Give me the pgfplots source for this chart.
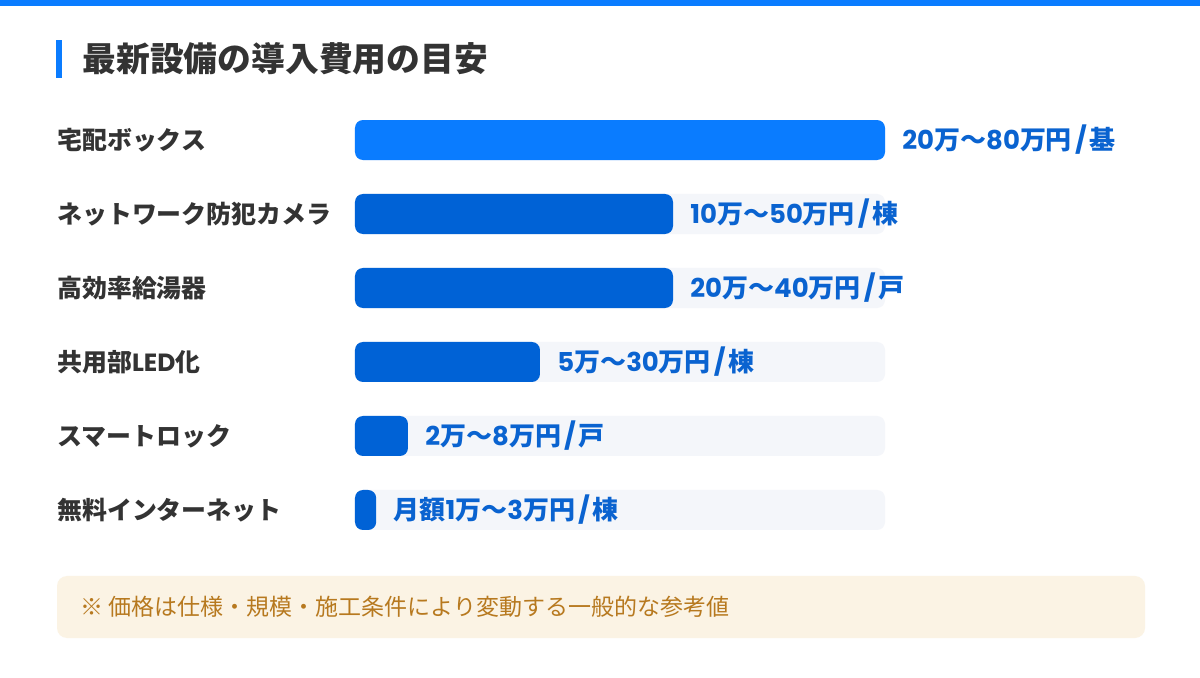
\documentclass[border=0pt]{standalone}
\usepackage{pgfplots}
\pgfplotsset{compat=1.18}
\usepackage{fontspec}
\setmainfont{Noto Sans CJK JP}
\newfontfamily\lat{Poppins}
\newcommand{\slsep}{\hspace{1.5pt}{\lat /}\hspace{1.5pt}}
\definecolor{topblue}{HTML}{0A7CFF}
\definecolor{barA}{HTML}{0A7CFF}
\definecolor{barB}{HTML}{0062D6}
\definecolor{track}{HTML}{F4F6FA}
\definecolor{valtxt}{HTML}{0A63D0}
\definecolor{lbl}{HTML}{333333}
\definecolor{notebg}{HTML}{FBF3E4}
\definecolor{notetxt}{HTML}{B7791F}
\begin{document}
\begin{tikzpicture}
\useasboundingbox[fill=white] (0,0) rectangle (600pt,-339pt);
\fill[topblue] (0,0) rectangle (600pt,-3pt);
\fill[topblue] (28pt,-20pt) rectangle (31pt,-39pt);
\node[anchor=west, inner sep=0, text=lbl, font=\fontsize{16.9pt}{18pt}\selectfont\bfseries] at (41pt,-29.5pt) {最新設備の導入費用の目安};
\fill[notebg, rounded corners=5pt] (28.5pt,-288pt) rectangle (572.5pt,-319pt);
\node[anchor=west, inner sep=0, text=notetxt, font=\fontsize{11.5pt}{13pt}\selectfont] at (40pt,-303.5pt) {※ 価格は仕様・規模・施工条件により変動する一般的な参考値};
\begin{axis}[at={(177.5pt,-51.5pt)}, anchor=north west, scale only axis,
  width=265pt, height=222pt, xmin=0, xmax=100, ymin=-0.5, ymax=5.5,
  y dir=reverse, hide axis, xbar, bar width=20pt, bar shift=0pt, clip=false]
\addplot[fill=track, draw=none, rounded corners=4pt] coordinates {(100,0) (100,1) (100,2) (100,3) (100,4) (100,5)};
\addplot[fill=barA, draw=none, rounded corners=4pt] coordinates {(100,0)};
\addplot[fill=barB, draw=none, rounded corners=4pt] coordinates {(60,1) (60,2) (34.9,3) (10,4) (4,5)};
\node[anchor=west, inner sep=0, xshift=-149pt, text=lbl, font=\fontsize{12.45pt}{14pt}\selectfont\bfseries] at (axis cs:0,0) {宅配ボックス};
\node[anchor=west, inner sep=0, xshift=-149pt, text=lbl, font=\fontsize{12.45pt}{14pt}\selectfont\bfseries] at (axis cs:0,1) {ネットワーク防犯カメラ};
\node[anchor=west, inner sep=0, xshift=-149pt, text=lbl, font=\fontsize{12.45pt}{14pt}\selectfont\bfseries] at (axis cs:0,2) {高効率給湯器};
\node[anchor=west, inner sep=0, xshift=-149pt, text=lbl, font=\fontsize{12.45pt}{14pt}\selectfont\bfseries] at (axis cs:0,3) {共用部{\lat LED}化};
\node[anchor=west, inner sep=0, xshift=-149pt, text=lbl, font=\fontsize{12.45pt}{14pt}\selectfont\bfseries] at (axis cs:0,4) {スマートロック};
\node[anchor=west, inner sep=0, xshift=-149pt, text=lbl, font=\fontsize{12.45pt}{14pt}\selectfont\bfseries] at (axis cs:0,5) {無料インターネット};
\node[anchor=west, inner sep=0, xshift=8.5pt, text=valtxt, font=\fontsize{13pt}{15pt}\selectfont\bfseries] at (axis cs:100,0) {{\lat 20}万〜{\lat 80}万円\slsep 基};
\node[anchor=west, inner sep=0, xshift=8.5pt, text=valtxt, font=\fontsize{13pt}{15pt}\selectfont\bfseries] at (axis cs:60,1) {{\lat 10}万〜{\lat 50}万円\slsep 棟};
\node[anchor=west, inner sep=0, xshift=8.5pt, text=valtxt, font=\fontsize{13pt}{15pt}\selectfont\bfseries] at (axis cs:60,2) {{\lat 20}万〜{\lat 40}万円\slsep 戸};
\node[anchor=west, inner sep=0, xshift=8.5pt, text=valtxt, font=\fontsize{13pt}{15pt}\selectfont\bfseries] at (axis cs:34.9,3) {{\lat 5}万〜{\lat 30}万円\slsep 棟};
\node[anchor=west, inner sep=0, xshift=8.5pt, text=valtxt, font=\fontsize{13pt}{15pt}\selectfont\bfseries] at (axis cs:10,4) {{\lat 2}万〜{\lat 8}万円\slsep 戸};
\node[anchor=west, inner sep=0, xshift=8.5pt, text=valtxt, font=\fontsize{13pt}{15pt}\selectfont\bfseries] at (axis cs:4,5) {月額{\lat 1}万〜{\lat 3}万円\slsep 棟};
\end{axis}
\end{tikzpicture}
\end{document}
